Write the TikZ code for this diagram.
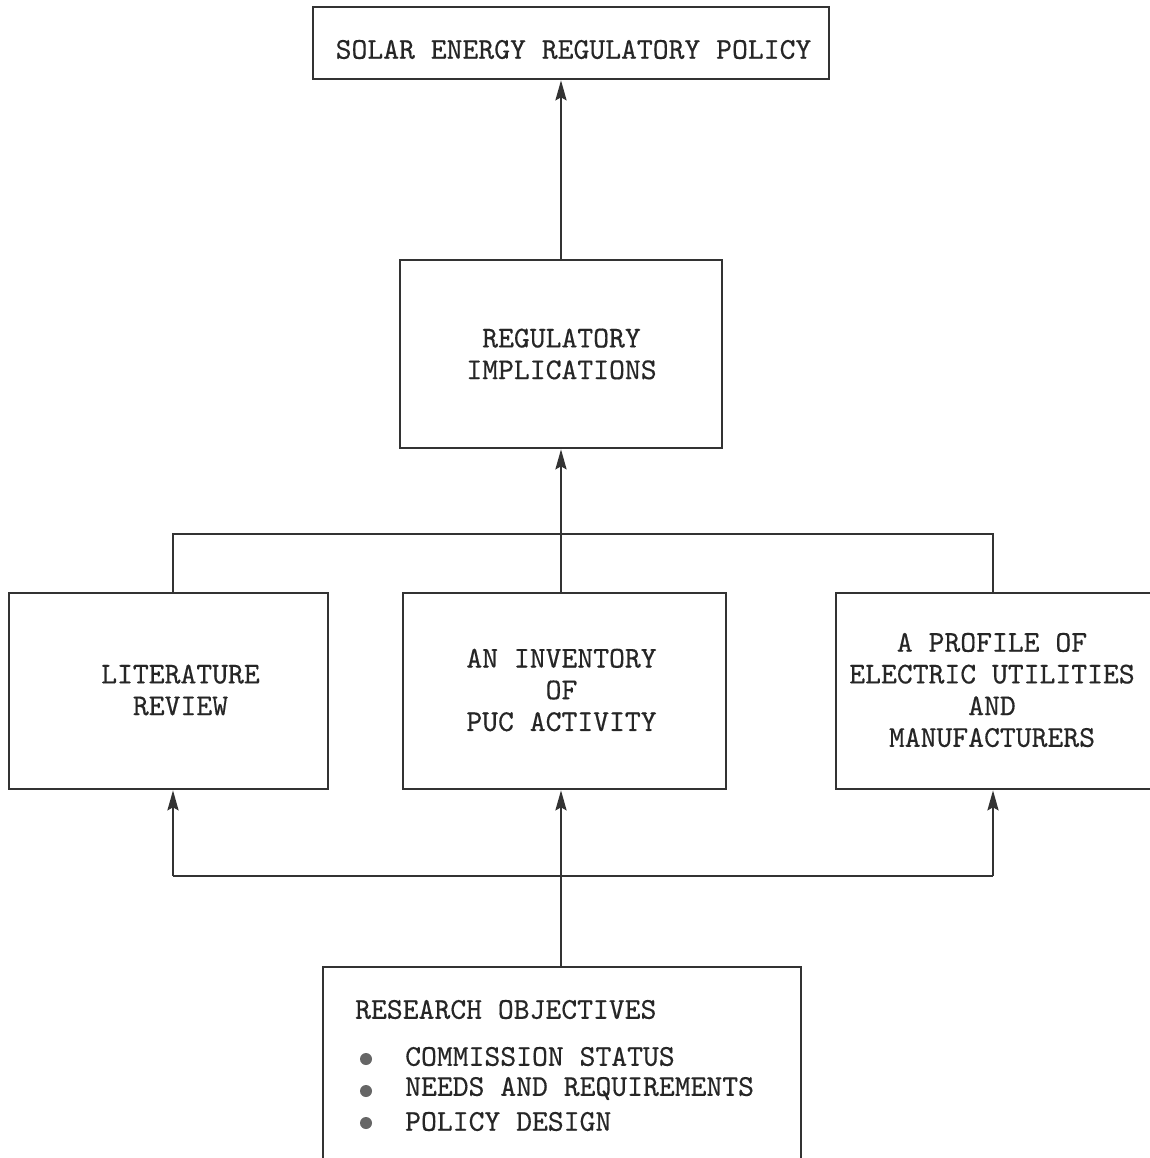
\documentclass[tikz,border=0pt]{standalone}
\usepackage{fontspec}
\setmonofont{lmmono10-regular.otf}[FakeBold=0.4]
\usetikzlibrary{arrows.meta}
\begin{document}
\begin{tikzpicture}[x=1pt,y=-1pt,
  box/.style={draw=black!80, line width=2.6pt, inner sep=0pt, fill=none},
  txt/.style={font=\fontsize{30.2}{31.7}\selectfont\ttfamily, text=black!85, align=center, inner sep=0pt},
  arr/.style={draw=black!80, line width=2.6pt, -{Stealth[length=20pt,width=11pt,inset=3pt]}},
  con/.style={draw=black!80, line width=2.6pt},
  bullet/.style={circle, fill=black!60, inner sep=0pt, minimum size=12pt}
]
\useasboundingbox[fill=white] (0,0) rectangle (1149,1158);

% boxes
\node[box, minimum width=516pt, minimum height=72pt] (top) at (571,43) {};
\node[box, minimum width=322pt, minimum height=188pt] (reg) at (561,354) {};
\node[box, minimum width=319pt, minimum height=196pt] (lit) at (168.5,691) {};
\node[box, minimum width=323pt, minimum height=196pt] (inv) at (564.5,691) {};
\node[box, minimum width=334pt, minimum height=196pt] (prof) at (1003,691) {};
\node[box, minimum width=478pt, minimum height=213pt] (res) at (562,1073.5) {};

% texts
\node[txt] (toptxt) at (573.5,49.5) {SOLAR ENERGY REGULATORY POLICY};
\node[txt] (regtxt) at (561.5,354) {REGULATORY\\IMPLICATIONS};
\node[txt] (littxt) at (180.5,690) {LITERATURE\\REVIEW};
\node[txt] (invtxt) at (561.5,690) {AN INVENTORY\\OF\\PUC ACTIVITY};
\node[txt] (proftxt) at (992,690) {A PROFILE OF\\ELECTRIC UTILITIES\\AND\\MANUFACTURERS};
\node[txt, anchor=west] (restxt) at (355,1009.5) {RESEARCH OBJECTIVES};
\node[txt, anchor=west] (r1) at (405,1056.5) {COMMISSION STATUS};
\node[txt, anchor=west] (r2) at (405,1088.5) {NEEDS AND REQUIREMENTS};
\node[txt, anchor=west] (r3) at (405,1121.5) {POLICY DESIGN};
\node[bullet] (b1) at (366,1059) {};
\node[bullet] (b2) at (366,1091) {};
\node[bullet] (b3) at (366,1123) {};

% connectors
\draw[arr] (reg.north) -- (reg.north |- top.south);
\draw[arr] (inv.north -| reg.south) -- (reg.south);
\coordinate (tl) at (173,534);
\coordinate (tr) at (993,534);
\draw[con] (tl |- lit.north) -- (tl) -- (tr) -- (tr |- prof.north);
\coordinate (bl) at (173,876);
\coordinate (br) at (993,876);
\draw[con] (bl) -- (br);
\draw[arr] (bl) -- (bl |- lit.south);
\draw[arr] (br) -- (br |- prof.south);
\draw[arr] (res.north -| reg.south) -- (reg.south |- inv.south);
\end{tikzpicture}
\end{document}
